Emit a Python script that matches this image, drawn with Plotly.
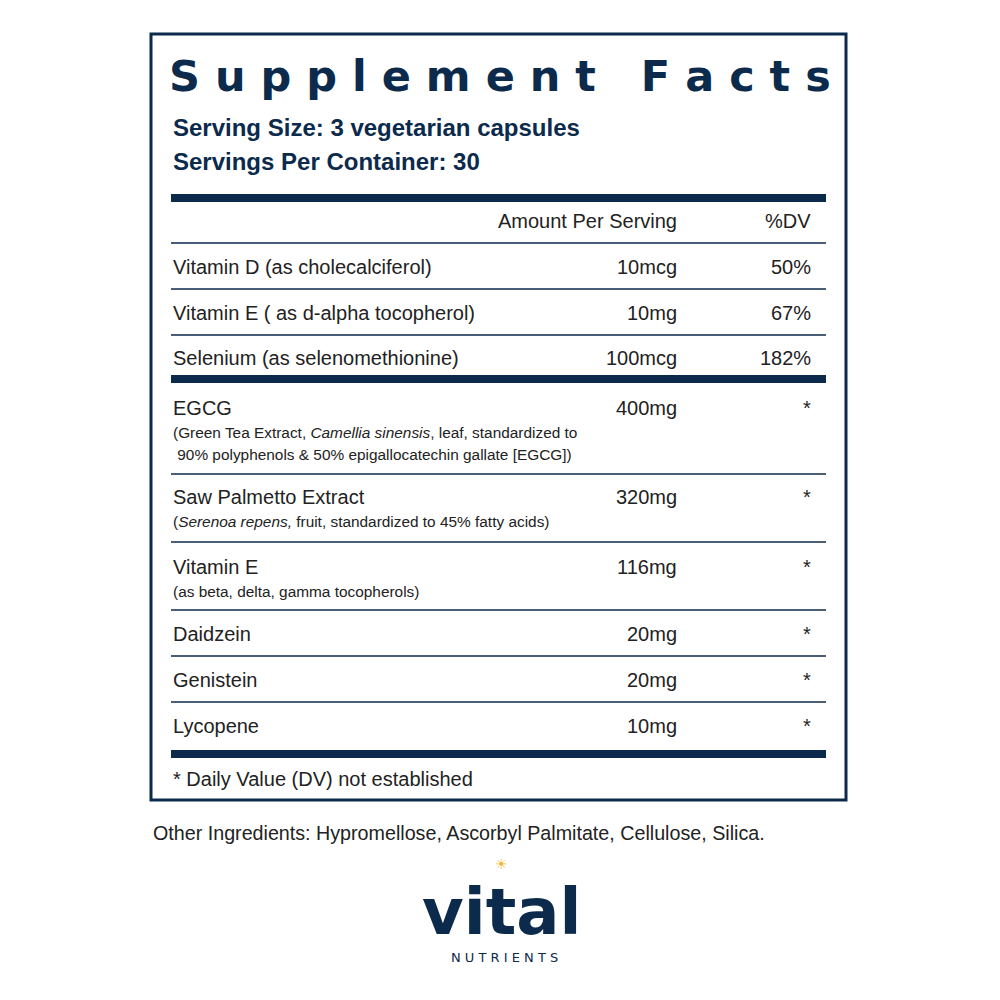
import plotly.graph_objects as go

NAVY = "#0c2a4b"
FONT = "Liberation Sans, Arial, sans-serif"

title = "Supplement Facts"
serving_size = "Serving Size: 3 vegetarian capsules"
servings = "Servings Per Container: 30"
names = ["Vitamin D (as cholecalciferol)", "Vitamin E ( as d-alpha tocopherol)", "Selenium (as selenomethionine)",
         "EGCG", "Saw Palmetto Extract", "Vitamin E", "Daidzein", "Genistein", "Lycopene"]
subs = [[], [], [],
        ["(Green Tea Extract, <i>Camellia sinensis</i>, leaf, standardized to",
         " 90% polyphenols & 50% epigallocatechin gallate [EGCG])"],
        ["(<i>Serenoa repens,</i> fruit, standardized to 45% fatty acids)"],
        ["(as beta, delta, gamma tocopherols)"], [], [], []]
amounts = ["10mcg", "10mg", "100mcg", "400mg", "320mg", "116mg", "20mg", "20mg", "10mg"]
dvs = ["50%", "67%", "182%", "*", "*", "*", "*", "*", "*"]
row_y = [267, 313, 358, 408, 497, 567, 634, 680, 726]
sep = [("thin", 289), ("thin", 335), ("thick", 379), ("thin", 474), ("thin", 542), ("thin", 610),
       ("thin", 656), ("thin", 702), ("thick", 754)]
footnote = "* Daily Value (DV) not established"
other = "Other Ingredients: Hypromellose, Ascorbyl Palmitate, Cellulose, Silica."

DX, DY = -7, -8
def X(v): return v + DX
def Y(v): return v + DY

fig = go.Figure()
shapes = [dict(type="rect", x0=X(150), x1=X(845), y0=Y(34), y1=Y(800), line=dict(color=NAVY, width=3))]
shapes.append(dict(type="rect", x0=X(170), x1=X(825), y0=Y(194), y1=Y(202), fillcolor=NAVY, line_width=0))
shapes.append(dict(type="line", x0=X(170), x1=X(825), y0=Y(243), y1=Y(243), line=dict(color=NAVY, width=1.5)))
for kind, y in sep:
    if kind == "thin":
        shapes.append(dict(type="line", x0=X(170), x1=X(825), y0=Y(y), y1=Y(y), line=dict(color=NAVY, width=1.5)))
    else:
        shapes.append(dict(type="rect", x0=X(170), x1=X(825), y0=Y(y - 4), y1=Y(y + 4), fillcolor=NAVY, line_width=0))

ann = []
def t(x, y, s, size, anchor="left", bold=False, color=NAVY, font=FONT):
    ann.append(dict(x=X(x), y=Y(y), text=f"<b>{s}</b>" if bold else s, showarrow=False, xanchor=anchor,
                    yanchor="middle", font=dict(size=size, color=color, family=font)))

t(166, 76, "S u p p l e m e n t   F a c t s", 43, bold=True, font="DejaVu Sans, sans-serif")
t(170, 127, serving_size, 24, bold=True)
t(170, 161, servings, 24, bold=True)
t(678, 221, "Amount Per Serving", 20, anchor="right", color="#222")
t(812, 221, "%DV", 20, anchor="right", color="#222")
for n, s, a, d, y in zip(names, subs, amounts, dvs, row_y):
    t(170, y, n, 20, color="#222")
    t(678, y, a, 20, anchor="right", color="#222")
    t(812, y, d, 20, anchor="right", color="#222")
    for i, line in enumerate(s):
        t(170, y + 24 + 22 * i, line, 15.4, color="#222")
t(170, 779, footnote, 20, color="#222")
t(150, 833, other, 19.7, color="#222")
t(500, 912, "<b>vital</b>", 64, anchor="center", font="DejaVu Sans, sans-serif")
t(503, 957, "N U T R I E N T S", 13, anchor="center", font="DejaVu Sans, sans-serif")
t(500, 864, "\u2600", 14, anchor="center", color="#f2b632")

fig.update_layout(width=1000, height=1000, margin=dict(l=0, r=0, t=0, b=0),
                  plot_bgcolor="white", paper_bgcolor="white", shapes=shapes, annotations=ann,
                  xaxis=dict(range=[0, 1000], visible=False, fixedrange=True),
                  yaxis=dict(range=[1000, 0], visible=False, fixedrange=True), showlegend=False)
fig.write_html("out.html")
